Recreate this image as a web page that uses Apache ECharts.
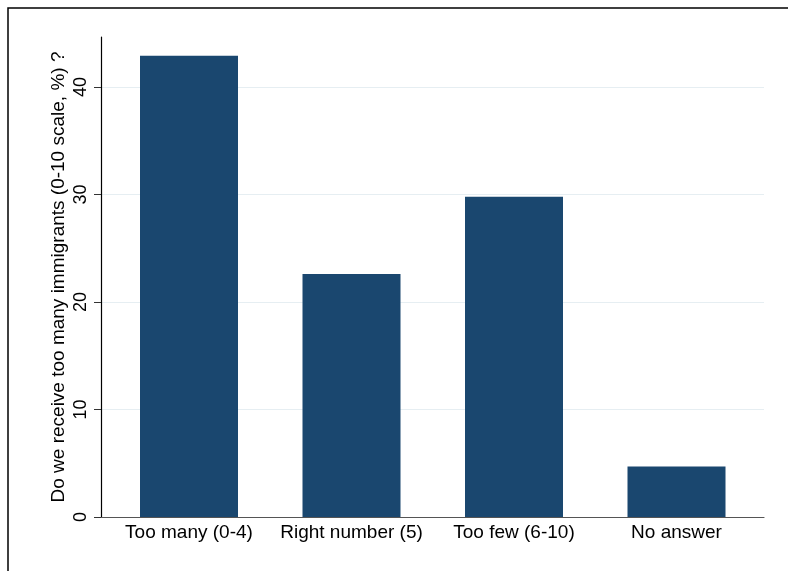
<!DOCTYPE html>
<html>
<head>
<meta charset="utf-8">
<script src="https://cdn.jsdelivr.net/npm/echarts@6/dist/echarts.min.js"></script>
<style>
  html, body { margin: 0; padding: 0; background: #fff; }
  #chart-container { width: 788px; height: 571px; }
</style>
</head>
<body>
<div id="chart-container"></div>
<script>
var categories = ['Too many (0-4)', 'Right number (5)', 'Too few (6-10)', 'No answer'];
var shares = [42.9, 22.6, 29.8, 4.7];
var yTicks = [0, 10, 20, 30, 40];
var yTitle = 'Do we receive too many immigrants (0-10 scale, %) ?';

var dom = document.getElementById('chart-container');
var myChart = echarts.init(dom, null, {renderer: 'canvas'});

var font = 'Liberation Sans';
var yMax = 44.65;

option = {
  animation: false,
  textStyle: {fontFamily: font},
  graphic: [
    {
      type: 'rect', silent: true,
      shape: {x: 8, y: 8, width: 900, height: 900},
      style: {fill: 'none', stroke: '#000', lineWidth: 1.5}
    }
  ],
  grid: [
    // frame with axis lines and gridlines
    {left: 101, right: 24, top: 37, bottom: 54},
    // inner grid for the bars (Stata leaves a small outer gap)
    {left: 107.75, right: 30.25, top: 37, bottom: 54}
  ],
  xAxis: [
    {
      gridIndex: 0, type: 'value', min: 0, max: 1,
      axisLine: {show: true, onZero: false, lineStyle: {color: '#555', width: 1.2}},
      axisTick: {show: false}, axisLabel: {show: false}, splitLine: {show: false}
    },
    {
      gridIndex: 1, type: 'category', data: categories,
      axisLine: {show: false}, axisTick: {show: false},
      axisLabel: {color: '#000', fontSize: 19, fontFamily: font, margin: 6, interval: 0}
    }
  ],
  yAxis: [
    {
      gridIndex: 0, type: 'value', min: 0, max: yMax, interval: 10,
      name: yTitle, nameLocation: 'middle', nameGap: 33, nameMoveOverlap: false,
      nameTextStyle: {color: '#000', fontSize: 19, fontFamily: font},
      axisLine: {show: true, lineStyle: {color: '#000', width: 1.2}},
      axisTick: {show: true, length: 7, customValues: yTicks, lineStyle: {color: '#333'}},
      axisLabel: {
        color: '#000', fontSize: 18, fontFamily: font, rotate: 90, margin: 11,
        customValues: yTicks
      },
      splitLine: {show: true, showMinLine: false, lineStyle: {color: '#e6eef2', width: 1.2}}
    },
    {
      gridIndex: 1, type: 'value', min: 0, max: yMax, show: false,
      splitLine: {show: false}
    }
  ],
  series: [
    {
      type: 'bar', xAxisIndex: 1, yAxisIndex: 1,
      data: shares, barWidth: 98,
      itemStyle: {color: '#1a476f'}
    }
  ]
};

myChart.setOption(option);
window.addEventListener('resize', myChart.resize);
</script>
</body>
</html>
